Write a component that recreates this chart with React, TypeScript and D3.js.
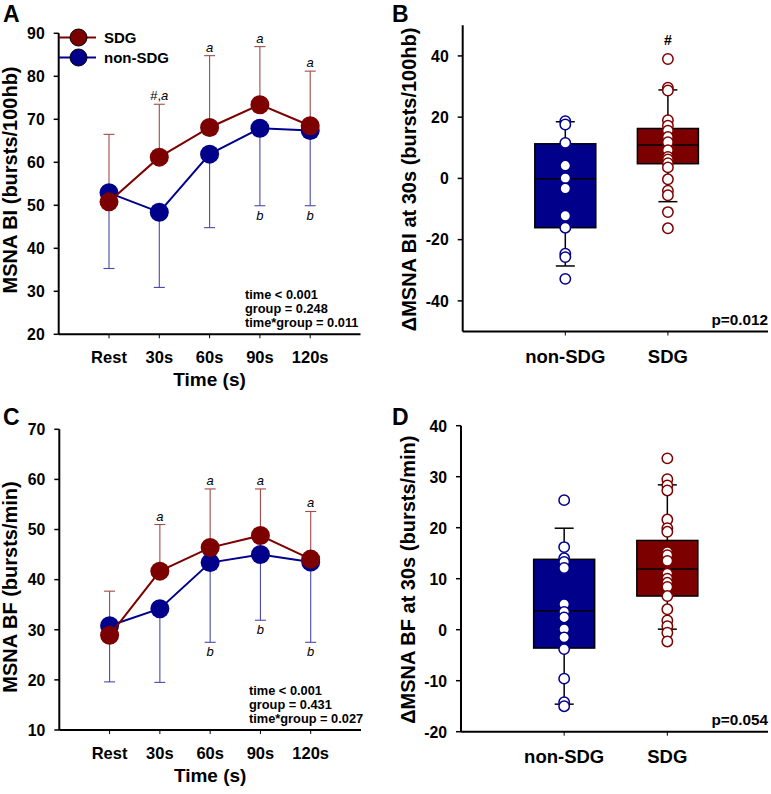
import * as d3 from 'd3';

// categories on the time axis
const TIMES = ['Rest', '30s', '60s', '90s', '120s'];
const GROUPS = ['non-SDG', 'SDG'];

// panel A: MSNA burst incidence
const A_SDG_MEAN = [50.8, 61.2, 68.1, 73.4, 68.5];
const A_SDG_UPPER = [66.5, 73.5, 84.8, 86.9, 81.2];
const A_NON_MEAN = [52.9, 48.4, 61.9, 67.9, 67.4];
const A_NON_LOWER = [35.3, 30.9, 44.8, 49.9, 49.9];
const A_TOP_MARKS = ['', '#,a', 'a', 'a', 'a'];
const A_BOTTOM_MARKS = ['', '', '', 'b', 'b'];
const A_STATS = ['time < 0.001', 'group = 0.248', 'time*group = 0.011'];

// panel C: MSNA burst frequency
const C_SDG_MEAN = [28.9, 41.7, 46.4, 48.8, 44.1];
const C_SDG_UPPER = [37.7, 51.0, 58.1, 58.1, 53.6];
const C_NON_MEAN = [30.8, 34.2, 43.4, 45.0, 43.5];
const C_NON_LOWER = [19.6, 19.5, 27.5, 31.9, 27.5];
const C_TOP_MARKS = ['', 'a', 'a', 'a', 'a'];
const C_BOTTOM_MARKS = ['', '', 'b', 'b', 'b'];
const C_STATS = ['time < 0.001', 'group = 0.431', 'time*group = 0.027'];

// panel B: change in BI at 30s, [whiskerLow, q1, median, q3, whiskerHigh]
const B_NON_BOX = [-28.6, -16.1, -0.1, 11.3, 18.5];
const B_SDG_BOX = [-7.6, 4.8, 10.9, 16.3, 28.9];
const B_NON_PTS = [18.7, 17.6, 11.6, 4.2, 0.1, -3.3, -12.2, -16.1, -24.6, -25.7, -32.8];
const B_SDG_PTS = [39, 29.6, 28.7, 19, 17.2, 15.6, 13.5, 11.8, 9.2, 7, 6.2, 5, 3.6, -0.3, -4, -5.5, -11, -16.3];

// panel D: change in BF at 30s
const D_NON_BOX = [-14.6, -3.6, 3.7, 13.8, 19.9];
const D_SDG_BOX = [0.1, 6.6, 11.9, 17.5, 28.4];
const D_NON_PTS = [25.4, 16.2, 14, 13.3, 12.1, 5, 3.5, 2.4, 0.1, -1.5, -3.8, -9.6, -14.2, -15];
const D_SDG_PTS = [33.6, 29.5, 28.3, 27.3, 21.6, 19.9, 19.2, 15.2, 14.6, 13.5, 11, 10, 9.2, 8.4, 6.6, 4, 1.8, 0.7, -0.6, -2.3];

const RED = '#7d0000';
const BLUE = '#00008b';
const RED_ERR = '#a04a4a';
const BLUE_ERR = '#4a4aa8';
const FONT = '"Liberation Sans", Arial, sans-serif';

type LineProps = {
  letter: string;
  letterY: number;
  left: number;
  right: number;
  top: number;
  bottom: number;
  domain: [number, number];
  ticks: number[];
  ylabel: string;
  labelY: number;
  sdgMean: number[];
  sdgUpper: number[];
  nonMean: number[];
  nonLower: number[];
  topMarks: string[];
  bottomMarks: string[];
  stats: string[];
  statsX: number;
  statsY: number;
  legend?: boolean;
};

function LinePanel(p: LineProps) {
  const x = d3.scaleLinear().domain([-1, 5]).range([p.left, p.right]);
  const y = d3.scaleLinear().domain(p.domain).range([p.bottom, p.top]);
  const line = d3
    .line<number>()
    .x((_, i) => x(i))
    .y((d) => y(d));
  const r = 9.5;
  return (
    <g fontFamily={FONT}>
      <text x={3} y={p.letterY} fontSize={23} fontWeight="bold">
        {p.letter}
      </text>
      {/* error bars */}
      {p.nonMean.map((m, i) => (
        <g key={'ne' + i} stroke={BLUE_ERR} strokeWidth={1.1}>
          <line x1={x(i)} x2={x(i)} y1={y(m)} y2={y(p.nonLower[i])} />
          <line x1={x(i) - 5.5} x2={x(i) + 5.5} y1={y(p.nonLower[i])} y2={y(p.nonLower[i])} />
        </g>
      ))}
      {p.sdgMean.map((m, i) => (
        <g key={'se' + i} stroke={RED_ERR} strokeWidth={1.1}>
          <line x1={x(i)} x2={x(i)} y1={y(m)} y2={y(p.sdgUpper[i])} />
          <line x1={x(i) - 5.5} x2={x(i) + 5.5} y1={y(p.sdgUpper[i])} y2={y(p.sdgUpper[i])} />
        </g>
      ))}
      <path d={line(p.nonMean) ?? ''} fill="none" stroke={BLUE} strokeWidth={2} />
      {p.nonMean.map((m, i) => (
        <circle key={'nc' + i} cx={x(i)} cy={y(m)} r={r} fill={BLUE} />
      ))}
      <path d={line(p.sdgMean) ?? ''} fill="none" stroke={RED} strokeWidth={2} />
      {p.sdgMean.map((m, i) => (
        <circle key={'sc' + i} cx={x(i)} cy={y(m)} r={r} fill={RED} />
      ))}
      {/* significance marks */}
      {p.topMarks.map((t, i) =>
        t ? (
          <text key={'tm' + i} x={x(i)} y={y(p.sdgUpper[i]) - 4} fontSize={13} textAnchor="middle">
            {t.startsWith('#') ? (
              <>
                <tspan>#,</tspan>
                <tspan fontStyle="italic">a</tspan>
              </>
            ) : (
              <tspan fontStyle="italic">{t}</tspan>
            )}
          </text>
        ) : null
      )}
      {p.bottomMarks.map((t, i) =>
        t ? (
          <text key={'bm' + i} x={x(i)} y={y(p.nonLower[i]) + 14} fontSize={13} fontStyle="italic" textAnchor="middle">
            {t}
          </text>
        ) : null
      )}
      {/* axes */}
      <line x1={p.left} x2={p.left} y1={p.top} y2={p.bottom} stroke="#000" strokeWidth={2} />
      <line x1={p.left} x2={p.right} y1={p.bottom} y2={p.bottom} stroke="#000" strokeWidth={2} />
      {p.ticks.map((t) => (
        <g key={'yt' + t}>
          <line x1={p.left - 5} x2={p.left} y1={y(t)} y2={y(t)} stroke="#000" strokeWidth={1.5} />
          <text x={p.left - 14} y={y(t) + 5.8} fontSize={15.8} fontWeight="bold" textAnchor="end">
            {t}
          </text>
        </g>
      ))}
      {TIMES.map((c, i) => (
        <g key={c}>
          <line x1={x(i)} x2={x(i)} y1={p.bottom} y2={p.bottom + 4} stroke="#000" strokeWidth={1} />
          <text x={x(i)} y={p.bottom + 29} fontSize={16.5} fontWeight="bold" textAnchor="middle">
            {c}
          </text>
        </g>
      ))}
      <text x={x(2)} y={p.bottom + 52} fontSize={19} fontWeight="bold" textAnchor="middle">
        Time (s)
      </text>
      <text
        transform={`translate(17,${p.labelY}) rotate(-90)`}
        fontSize={20}
        fontWeight="bold"
        textAnchor="middle"
      >
        {p.ylabel}
      </text>
      {p.stats.map((s, i) => (
        <text key={s} x={p.statsX} y={p.statsY + i * 14.2} fontSize={12.8} fontWeight="bold">
          {s}
        </text>
      ))}
      {p.legend && (
        <g>
          <line x1={p.left} x2={96} y1={37.5} y2={37.5} stroke={RED} strokeWidth={2} />
          <circle cx={78.5} cy={37.5} r={8.5} fill={RED} stroke="#000" strokeWidth={1} />
          <text x={104} y={43} fontSize={15} fontWeight="bold">SDG</text>
          <line x1={p.left} x2={96} y1={57.5} y2={57.5} stroke={BLUE} strokeWidth={2} />
          <circle cx={78.5} cy={57.5} r={8.5} fill={BLUE} stroke="#000" strokeWidth={1} />
          <text x={104} y={63} fontSize={15} fontWeight="bold">non-SDG</text>
        </g>
      )}
    </g>
  );
}

type BoxProps = {
  letter: string;
  letterY: number;
  left: number;
  right: number;
  top: number;
  bottom: number;
  domain: [number, number];
  ticks: number[];
  ylabel: string;
  labelX: number;
  boxes: number[][];
  points: number[][];
  pText: string;
  hashOnSdg?: boolean;
};

function BoxPanel(p: BoxProps) {
  const x = d3.scaleLinear().domain([-1, 2]).range([p.left, p.right + 2.5]);
  const y = d3.scaleLinear().domain(p.domain).range([p.bottom, p.top]);
  const colors = [BLUE, RED];
  const bw = 61;
  return (
    <g fontFamily={FONT}>
      <text x={392} y={p.letterY} fontSize={23} fontWeight="bold">
        {p.letter}
      </text>
      {p.boxes.map((b, i) => {
        const cx = x(i);
        return (
          <g key={'box' + i} stroke="#000" strokeWidth={1.5}>
            <line x1={cx} x2={cx} y1={y(b[0])} y2={y(b[1])} />
            <line x1={cx} x2={cx} y1={y(b[3])} y2={y(b[4])} />
            <line x1={cx - 9.5} x2={cx + 9.5} y1={y(b[0])} y2={y(b[0])} />
            <line x1={cx - 9.5} x2={cx + 9.5} y1={y(b[4])} y2={y(b[4])} />
            <rect x={cx - bw / 2} y={y(b[3])} width={bw} height={y(b[1]) - y(b[3])} fill={colors[i]} />
            <line x1={cx - bw / 2} x2={cx + bw / 2} y1={y(b[2])} y2={y(b[2])} />
          </g>
        );
      })}
      {p.points.map((pts, i) =>
        pts.map((v, j) => (
          <circle key={`pt${i}-${j}`} cx={x(i)} cy={y(v)} r={5.2} fill="#fff" stroke={colors[i]} strokeWidth={1.5} />
        ))
      )}
      {p.hashOnSdg && (
        <text x={x(1)} y={y(d3.max(p.points[1]) ?? 0) - 14} fontSize={14} fontWeight="bold" textAnchor="middle">
          #
        </text>
      )}
      <line x1={p.left} x2={p.left} y1={p.top} y2={p.bottom} stroke="#000" strokeWidth={2} />
      <line x1={p.left} x2={p.right} y1={p.bottom} y2={p.bottom} stroke="#000" strokeWidth={2} />
      {p.ticks.map((t) => (
        <g key={'yt' + t}>
          <line x1={p.left - 5} x2={p.left} y1={y(t)} y2={y(t)} stroke="#000" strokeWidth={1.5} />
          <text x={p.left - 14} y={y(t) + 5.8} fontSize={15.8} fontWeight="bold" textAnchor="end">
            {t}
          </text>
        </g>
      ))}
      {GROUPS.map((g, i) => (
        <g key={g}>
          <line x1={x(i)} x2={x(i)} y1={p.bottom} y2={p.bottom + 4} stroke="#000" strokeWidth={1} />
          <text x={x(i)} y={p.bottom + 31} fontSize={18.5} fontWeight="bold" textAnchor="middle">
            {g}
          </text>
        </g>
      ))}
      <text x={p.right} y={p.bottom - 6.5} fontSize={15.3} fontWeight="bold" textAnchor="end">
        {p.pText}
      </text>
      <text
        transform={`translate(${p.labelX},${(p.top + p.bottom) / 2 + 1}) rotate(-90)`}
        fontSize={20}
        fontWeight="bold"
        textAnchor="middle"
      >
        {p.ylabel}
      </text>
    </g>
  );
}

export default function App() {
  return (
    <svg width={771} height={794} style={{ position: 'absolute', left: 0, top: 0, background: '#fff' }}>
      <LinePanel
        letter="A"
        letterY={22}
        left={58.7}
        right={360.5}
        top={33.3}
        bottom={334.3}
        domain={[20, 90]}
        ticks={[20, 30, 40, 50, 60, 70, 80, 90]}
        ylabel="MSNA BI (bursts/100hb)"
        labelY={180}
        sdgMean={A_SDG_MEAN}
        sdgUpper={A_SDG_UPPER}
        nonMean={A_NON_MEAN}
        nonLower={A_NON_LOWER}
        topMarks={A_TOP_MARKS}
        bottomMarks={A_BOTTOM_MARKS}
        stats={A_STATS}
        statsX={245}
        statsY={298.5}
        legend
      />
      <LinePanel
        letter="C"
        letterY={425}
        left={59.3}
        right={361}
        top={429.3}
        bottom={730}
        domain={[10, 70]}
        ticks={[10, 20, 30, 40, 50, 60, 70]}
        ylabel="MSNA BF (bursts/min)"
        labelY={587}
        sdgMean={C_SDG_MEAN}
        sdgUpper={C_SDG_UPPER}
        nonMean={C_NON_MEAN}
        nonLower={C_NON_LOWER}
        topMarks={C_TOP_MARKS}
        bottomMarks={C_BOTTOM_MARKS}
        stats={C_STATS}
        statsX={249}
        statsY={695}
      />
      <BoxPanel
        letter="B"
        letterY={22}
        left={462.7}
        right={768}
        top={25.3}
        bottom={331.5}
        domain={[-50, 50]}
        ticks={[-40, -20, 0, 20, 40]}
        ylabel="ΔMSNA BI at 30s (bursts/100hb)"
        labelX={416}
        boxes={[B_NON_BOX, B_SDG_BOX]}
        points={[B_NON_PTS, B_SDG_PTS]}
        pText="p=0.012"
        hashOnSdg
      />
      <BoxPanel
        letter="D"
        letterY={425}
        left={461}
        right={768}
        top={425.7}
        bottom={731.7}
        domain={[-20, 40]}
        ticks={[-20, -10, 0, 10, 20, 30, 40]}
        ylabel="ΔMSNA BF at 30s (bursts/min)"
        labelX={415}
        boxes={[D_NON_BOX, D_SDG_BOX]}
        points={[D_NON_PTS, D_SDG_PTS]}
        pText="p=0.054"
      />
    </svg>
  );
}
